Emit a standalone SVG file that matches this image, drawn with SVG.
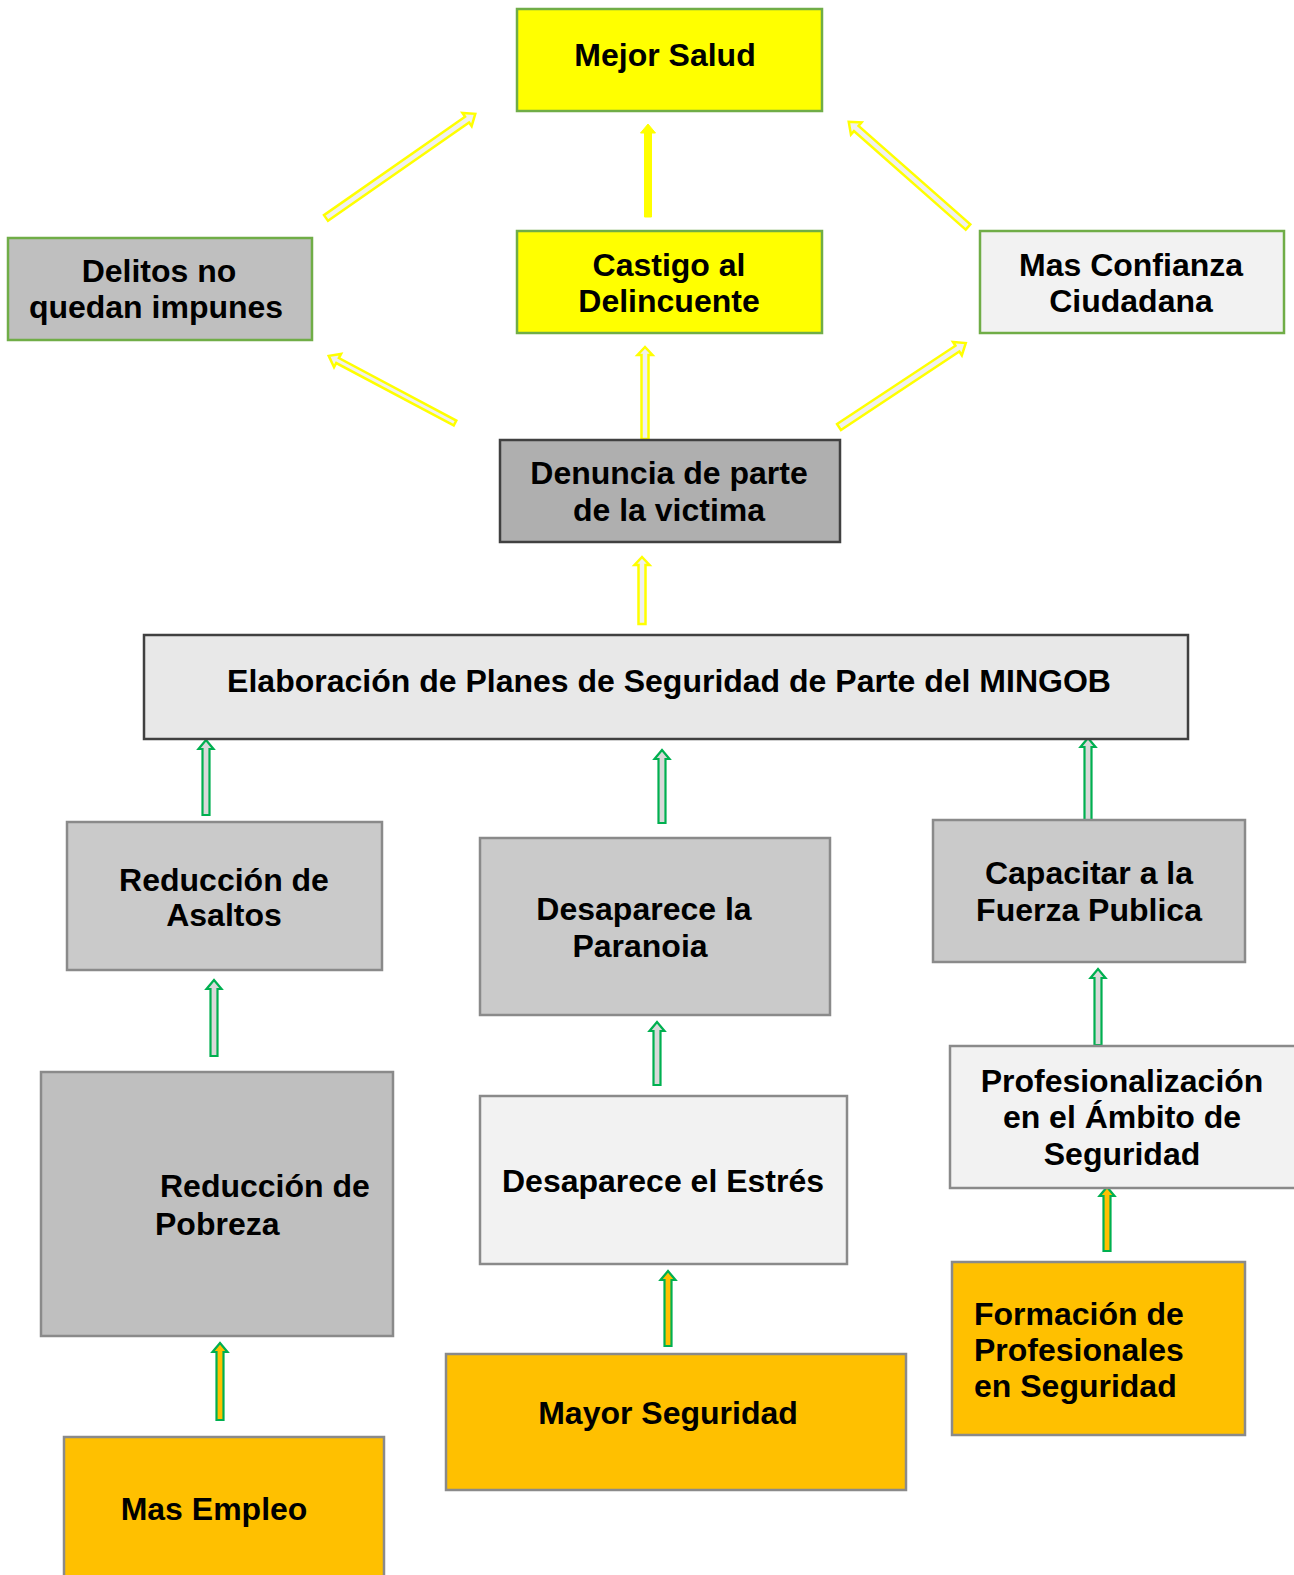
<svg xmlns="http://www.w3.org/2000/svg" width="1294" height="1575" viewBox="0 0 1294 1575">
<style>
text{font-family:"Liberation Sans",Arial,sans-serif;font-weight:bold;font-size:32px;fill:#000}
.c{text-anchor:middle}
.g{stroke:#70ad47;stroke-width:2.5}
.d{stroke:#404040;stroke-width:2.5}
.m{stroke:#8a8a8a;stroke-width:2.5}
.ya{fill:#f0f0f0;stroke:#ffff00;stroke-width:2.5;stroke-linejoin:miter}
.ys{fill:#ffff00;stroke:#ffff00;stroke-width:1}
.ga{fill:#d9d9d9;stroke:#00b050;stroke-width:2.2}
.go{fill:#ffc000;stroke:#00b050;stroke-width:2.2}
</style>
<rect width="1294" height="1575" fill="#fff"/>
<g id="connectors">
<path class="ya" d="M0,-3.5 L172,-3.5 L172,-8 L182,0 L172,8 L172,3.5 L0,3.5 Z" transform="translate(326,218) rotate(-34.9)"/>
<path class="ys" d="M0,-3.5 L84,-3.5 L84,-7.5 L93,0 L84,7.5 L84,3.5 L0,3.5 Z" transform="translate(648,217) rotate(-90)"/>
<path class="ya" d="M0,-3.5 L149,-3.5 L149,-8 L159,0 L149,8 L149,3.5 L0,3.5 Z" transform="translate(968,227) rotate(-138.6)"/>
<path class="ya" d="M0,-2.8 L133,-2.8 L133,-7.5 L143,0 L133,7.5 L133,2.8 L0,2.8 Z" transform="translate(455,423) rotate(-152)"/>
<path class="ya" d="M0,-3.5 L142,-3.5 L142,-8 L152,0 L142,8 L142,3.5 L0,3.5 Z" transform="translate(839,427) rotate(-33.5)"/>
<path class="ya" d="M0,-3.5 L84,-3.5 L84,-7.5 L92,0 L84,7.5 L84,3.5 L0,3.5 Z" transform="translate(645,439) rotate(-90)"/>
<path class="ya" d="M0,-3.5 L59,-3.5 L59,-7.5 L67,0 L59,7.5 L59,3.5 L0,3.5 Z" transform="translate(642,624) rotate(-90)"/>
<path class="ga" d="M0,-3.5 L66,-3.5 L66,-7.5 L75,0 L66,7.5 L66,3.5 L0,3.5 Z" transform="translate(206,815) rotate(-90)"/>
<path class="ga" d="M0,-3.5 L64,-3.5 L64,-7.5 L73,0 L64,7.5 L64,3.5 L0,3.5 Z" transform="translate(662,823) rotate(-90)"/>
<path class="ga" d="M0,-3.5 L73,-3.5 L73,-7.5 L82,0 L73,7.5 L73,3.5 L0,3.5 Z" transform="translate(1088,820) rotate(-90)"/>
<path class="ga" d="M0,-3.5 L67,-3.5 L67,-7.5 L76,0 L67,7.5 L67,3.5 L0,3.5 Z" transform="translate(214,1056) rotate(-90)"/>
<path class="ga" d="M0,-3.5 L54,-3.5 L54,-7.5 L63,0 L54,7.5 L54,3.5 L0,3.5 Z" transform="translate(657,1085) rotate(-90)"/>
<path class="ga" d="M0,-3.5 L67,-3.5 L67,-7.5 L76,0 L67,7.5 L67,3.5 L0,3.5 Z" transform="translate(1098,1045) rotate(-90)"/>
<path class="go" d="M0,-3.5 L66,-3.5 L66,-7.5 L75,0 L66,7.5 L66,3.5 L0,3.5 Z" transform="translate(668,1346) rotate(-90)"/>
<path class="go" d="M0,-3.5 L55,-3.5 L55,-7.5 L64,0 L55,7.5 L55,3.5 L0,3.5 Z" transform="translate(1107,1251) rotate(-90)"/>
<path class="go" d="M0,-3.5 L68,-3.5 L68,-7.5 L77,0 L68,7.5 L68,3.5 L0,3.5 Z" transform="translate(220,1420) rotate(-90)"/>
</g>
<g id="mejor-salud"><rect class="g" x="517" y="9" width="305" height="102" fill="#ffff00"/><text class="c" x="665" y="66">Mejor Salud</text></g>
<g id="castigo"><rect class="g" x="517" y="231" width="305" height="102" fill="#ffff00"/><text class="c" x="669" y="276">Castigo al</text><text class="c" x="669" y="312">Delincuente</text></g>
<g id="delitos"><rect class="g" x="8" y="238" width="304" height="102" fill="#bfbfbf"/><text class="c" x="159" y="282">Delitos no</text><text class="c" x="156" y="318">quedan impunes</text></g>
<g id="confianza"><rect class="g" x="980" y="231" width="304" height="102" fill="#f2f2f2"/><text class="c" x="1131" y="276">Mas Confianza</text><text class="c" x="1131" y="312">Ciudadana</text></g>
<g id="denuncia"><rect class="d" x="500" y="440" width="340" height="102" fill="#afafaf"/><text class="c" x="669" y="484">Denuncia de parte</text><text class="c" x="669" y="521">de la victima</text></g>
<g id="elaboracion"><rect class="d" x="144" y="635" width="1044" height="104" fill="#e8e8e8"/><text class="c" x="669" y="692">Elaboración de Planes de Seguridad de Parte del MINGOB</text></g>
<g id="asaltos"><rect class="m" x="67" y="822" width="315" height="148" fill="#cacaca"/><text class="c" x="224" y="891">Reducción de</text><text class="c" x="224" y="926">Asaltos</text></g>
<g id="paranoia"><rect class="m" x="480" y="838" width="350" height="177" fill="#cacaca"/><text class="c" x="644" y="920">Desaparece la</text><text class="c" x="640" y="957">Paranoia</text></g>
<g id="capacitar"><rect class="m" x="933" y="820" width="312" height="142" fill="#cacaca"/><text class="c" x="1089" y="884">Capacitar a la</text><text class="c" x="1089" y="921">Fuerza Publica</text></g>
<g id="pobreza"><rect class="m" x="41" y="1072" width="352" height="264" fill="#bfbfbf"/><text x="160" y="1197">Reducción de</text><text x="155" y="1235">Pobreza</text></g>
<g id="estres"><rect class="m" x="480" y="1096" width="367" height="168" fill="#f2f2f2"/><text class="c" x="663" y="1192">Desaparece el Estrés</text></g>
<g id="profesionalizacion"><rect class="m" x="950" y="1046" width="360" height="142" fill="#f2f2f2"/><text class="c" x="1122" y="1092">Profesionalización</text><text class="c" x="1122" y="1128">en el Ámbito de</text><text class="c" x="1122" y="1165">Seguridad</text></g>
<g id="mas-empleo"><rect class="m" x="64" y="1437" width="320" height="150" fill="#ffc000"/><text class="c" x="214" y="1520">Mas Empleo</text></g>
<g id="mayor-seguridad"><rect class="m" x="446" y="1354" width="460" height="136" fill="#ffc000"/><text class="c" x="668" y="1424">Mayor Seguridad</text></g>
<g id="formacion"><rect class="m" x="952" y="1262" width="293" height="173" fill="#ffc000"/><text x="974" y="1325">Formación de</text><text x="974" y="1361">Profesionales</text><text x="974" y="1397">en Seguridad</text></g>
</svg>
